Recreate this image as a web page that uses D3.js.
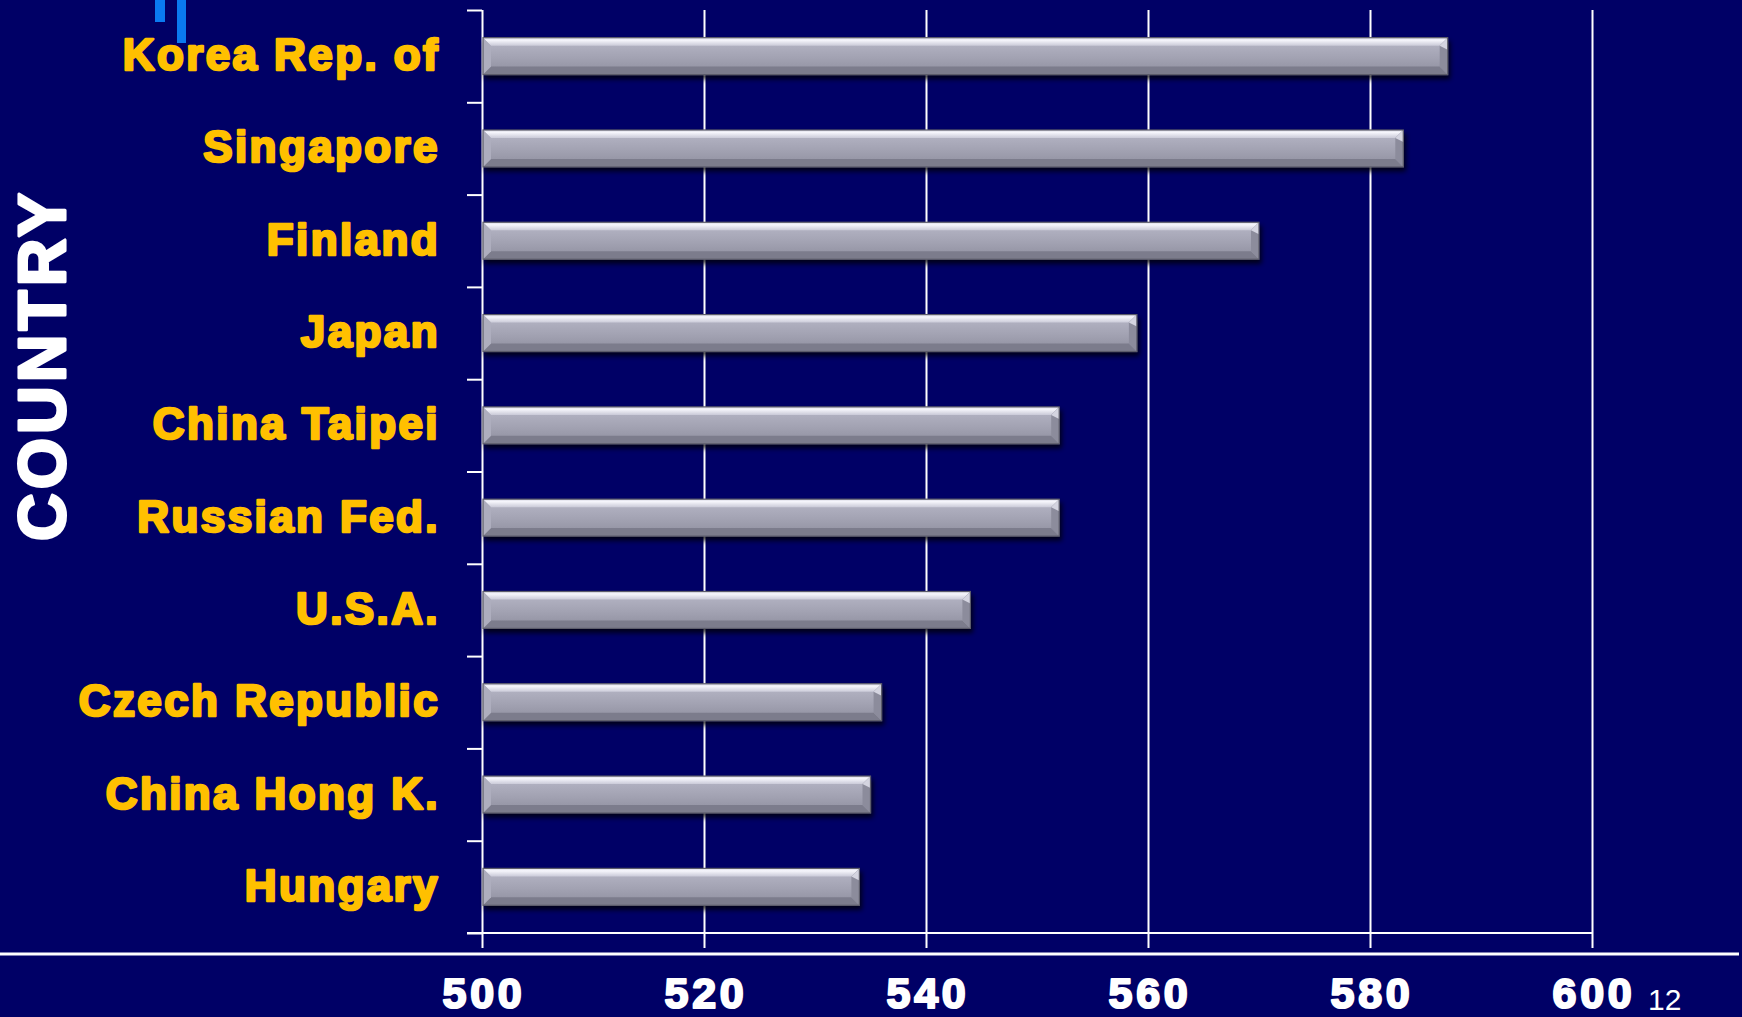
<!DOCTYPE html>
<html>
<head>
<meta charset="utf-8">
<script src="https://cdn.jsdelivr.net/npm/d3@7"></script>
<style>
  html, body { margin: 0; padding: 0; background: #000066; overflow: hidden; }
  svg { display: block; }
</style>
</head>
<body>
<svg id="chart" width="1742" height="1017"></svg>
<script>
// Mean scores by country
const countries = ["Korea Rep. of", "Singapore", "Finland", "Japan", "China Taipei",
                   "Russian Fed.", "U.S.A.", "Czech Republic", "China Hong K.", "Hungary"];
const scores = [587, 583, 570, 559, 552, 552, 544, 536, 535, 534];
const xTicks = [500, 520, 540, 560, 580, 600];
const axisTitle = "COUNTRY";
const pageNumber = "12";

const data = countries.map((c, i) => ({ country: c, score: scores[i] }));

const svg = d3.select("#chart");
const W = 1742, H = 1017;
const plot = { left: 482, right: 1592, top: 10, bottom: 933 };

svg.append("rect").attr("width", W).attr("height", H).attr("fill", "#000066");

const defs = svg.append("defs");

// face gradient of the bars
const face = defs.append("linearGradient").attr("id", "barFace")
  .attr("x1", 0).attr("y1", 0).attr("x2", 0).attr("y2", 1);
face.append("stop").attr("offset", "0%").attr("stop-color", "#b8b8c8");
face.append("stop").attr("offset", "55%").attr("stop-color", "#a2a2b2");
face.append("stop").attr("offset", "100%").attr("stop-color", "#8e8e9e");

const topBevel = defs.append("linearGradient").attr("id", "barTop")
  .attr("x1", 0).attr("y1", 0).attr("x2", 0).attr("y2", 1);
topBevel.append("stop").attr("offset", "0%").attr("stop-color", "#d8d8e4");
topBevel.append("stop").attr("offset", "30%").attr("stop-color", "#f6f6fc");
topBevel.append("stop").attr("offset", "100%").attr("stop-color", "#cacad8");

const shadow = defs.append("filter").attr("id", "barShadow")
  .attr("x", "-5%").attr("y", "-30%").attr("width", "110%").attr("height", "170%");
shadow.append("feDropShadow").attr("dx", 2).attr("dy", 4).attr("stdDeviation", 2.5)
  .attr("flood-color", "#000000").attr("flood-opacity", 0.75);

// scales
const x = d3.scaleLinear().domain([500, 600]).range([plot.left, plot.right]);
const y = d3.scaleBand().domain(countries).range([plot.top, plot.bottom])
  .paddingInner(0.6).paddingOuter(0.3);
const yEdges = d3.scaleLinear().domain([0, countries.length]).range([plot.top, plot.bottom]);

// vertical gridlines (run slightly below the baseline)
const grid = svg.append("g").attr("transform", `translate(0,${plot.bottom + 15})`)
  .call(d3.axisBottom(x).tickValues(xTicks).tickSize(-(plot.bottom + 15 - plot.top))
    .tickSizeOuter(0).tickFormat(""));
grid.select(".domain").remove();
grid.selectAll(".tick line").attr("stroke", "#ffffff").attr("stroke-width", 2);

// category axis with ticks at the band boundaries
const yAxis = svg.append("g").attr("transform", `translate(${plot.left},0)`)
  .call(d3.axisLeft(yEdges).ticks(countries.length).tickSize(15).tickSizeOuter(0).tickFormat(""));
yAxis.select(".domain").remove();
yAxis.selectAll(".tick line").attr("stroke", "#ffffff").attr("stroke-width", 2);

// horizontal baseline of the plot
svg.append("line")
  .attr("x1", plot.left - 15).attr("x2", x(600))
  .attr("y1", plot.bottom).attr("y2", plot.bottom)
  .attr("stroke", "#ffffff").attr("stroke-width", 2);

// bars drawn as bevelled silver slabs
const b = 8;
const bars = svg.append("g").selectAll("g.bar").data(data).join("g")
  .attr("class", "bar")
  .attr("filter", "url(#barShadow)");

bars.each(function (d) {
  const g = d3.select(this);
  const x0 = x(500) + 1, x1 = x(d.score);
  const y0 = y(d.country), y1 = y0 + y.bandwidth();
  g.append("rect").attr("x", x0).attr("y", y0).attr("width", x1 - x0).attr("height", y1 - y0)
    .attr("fill", "url(#barFace)");
  // top bevel
  g.append("polygon")
    .attr("points", [[x0, y0], [x1, y0], [x1 - b, y0 + b], [x0 + b, y0 + b]].join(" "))
    .attr("fill", "url(#barTop)");
  // bottom bevel
  g.append("polygon")
    .attr("points", [[x0, y1], [x1, y1], [x1 - b, y1 - b], [x0 + b, y1 - b]].join(" "))
    .attr("fill", "#7c7c8c");
  // left bevel
  g.append("polygon")
    .attr("points", [[x0, y0], [x0 + b, y0 + b], [x0 + b, y1 - b], [x0, y1]].join(" "))
    .attr("fill", "#aeaebe");
  // right bevel
  g.append("polygon")
    .attr("points", [[x1, y0], [x1 - b, y0 + b], [x1 - b, y1 - b], [x1, y1]].join(" "))
    .attr("fill", "#8c8c9c");
  g.append("polygon")
    .attr("points", [[x1, y0], [x1 - b, y0 + b], [x1, y0 + b + 4]].join(" "))
    .attr("fill", "#d4d4e0");
  // outline
  g.append("rect").attr("x", x0).attr("y", y0).attr("width", x1 - x0).attr("height", y1 - y0)
    .attr("fill", "none").attr("stroke", "#5c5c6a").attr("stroke-width", 1.2);
});

// category labels
svg.append("g").selectAll("text").data(data).join("text")
  .attr("x", 440)
  .attr("y", d => y(d.country) + y.bandwidth() / 2 + 14)
  .attr("text-anchor", "end")
  .attr("font-family", "'Arial Black', 'Liberation Sans', Arial, sans-serif")
  .attr("font-weight", 900)
  .attr("font-size", 44)
  .attr("letter-spacing", 2.4)
  .attr("fill", "#ffc000")
  .attr("stroke", "#ffc000").attr("stroke-width", 2.6).attr("stroke-linejoin", "round")
  .text(d => d.country);

// value tick labels
svg.append("g").selectAll("text").data(xTicks).join("text")
  .attr("x", d => x(d) + 2)
  .attr("y", 1008)
  .attr("text-anchor", "middle")
  .attr("font-family", "'Arial Black', 'Liberation Sans', Arial, sans-serif")
  .attr("font-weight", 900)
  .attr("font-size", 43)
  .attr("letter-spacing", 3.8)
  .attr("fill", "#ffffff")
  .attr("stroke", "#ffffff").attr("stroke-width", 2.2).attr("stroke-linejoin", "round")
  .text(d => d);

// rotated axis title
svg.append("text")
  .attr("transform", "translate(65,365) rotate(-90)")
  .attr("text-anchor", "middle")
  .attr("font-family", "'Arial Black', 'Liberation Sans', Arial, sans-serif")
  .attr("font-weight", 900)
  .attr("font-size", 66)
  .attr("letter-spacing", 4)
  .attr("fill", "#ffffff")
  .attr("stroke", "#ffffff").attr("stroke-width", 3).attr("stroke-linejoin", "round")
  .text(axisTitle);

// separator rule below the plot
svg.append("line")
  .attr("x1", 0).attr("x2", 1739).attr("y1", 954).attr("y2", 954)
  .attr("stroke", "#ffffff").attr("stroke-width", 3);

// accent strokes at the top left
svg.append("rect").attr("x", 155).attr("y", 0).attr("width", 10).attr("height", 22).attr("fill", "#0a7af0");
svg.append("rect").attr("x", 177).attr("y", 0).attr("width", 9).attr("height", 43).attr("fill", "#0a7af0");

// slide number
svg.append("text")
  .attr("x", 1648).attr("y", 1010)
  .attr("font-family", "'Liberation Sans', Arial, sans-serif")
  .attr("font-size", 30)
  .attr("fill", "#ffffff")
  .text(pageNumber);
</script>
</body>
</html>
